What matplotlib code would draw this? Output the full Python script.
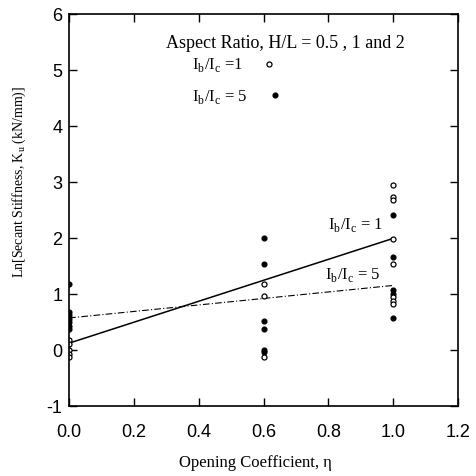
import matplotlib.pyplot as plt
from matplotlib.lines import Line2D

# open circles: Ib/Ic = 1, filled circles: Ib/Ic = 5
eta_open = [0.0, 0.0, 0.0, 0.0, 0.0,
            0.6, 0.6, 0.6,
            1.0, 1.0, 1.0, 1.0, 1.0, 1.0, 1.0, 1.0]
ln_k_open = [0.17, 0.11, -0.01, -0.07, -0.13,
             1.17, 0.97, -0.13,
             2.95, 2.73, 2.67, 1.98, 1.54, 0.94, 0.88, 0.82]

eta_filled = [0.0, 0.0, 0.0, 0.0, 0.0, 0.0, 0.0,
              0.6, 0.6, 0.6, 0.6, 0.6, 0.6,
              1.0, 1.0, 1.0, 1.0, 1.0]
ln_k_filled = [1.17, 0.68, 0.63, 0.55, 0.5, 0.43, 0.37,
               2.0, 1.54, 0.52, 0.375, 0.0, -0.04,
               2.4, 1.65, 1.06, 1.0, 0.57]

fit_eta = [0.0, 1.0]
fit_ib1 = [0.12, 1.99]
fit_ib5 = [0.57, 1.15]

xticks = [0.0, 0.2, 0.4, 0.6, 0.8, 1.0, 1.2]
yticks = [-1, 0, 1, 2, 3, 4, 5, 6]

SERIF = "Liberation Serif"
SANS = "Liberation Sans"
SUB_B = "I$_\\mathregular{b}$/I$_\\mathregular{c}$"

fig = plt.figure(figsize=(4.77, 4.77), dpi=100)
ax = fig.add_axes([0.145, 0.147, 0.815, 0.822])

ax.plot(fit_eta, fit_ib1, color="black", lw=1.1)
ax.plot(fit_eta, fit_ib5, color="black", lw=0.8, dashes=(6, 2, 1, 2))

ax.plot(eta_filled, ln_k_filled, "o", ms=3.4, mfc="black", mec="black", lw=0)
ax.plot(eta_open, ln_k_open, "o", ms=3.6, mfc="white", mec="black", mew=0.9, lw=0)

ax.set_xlim(0.0, 1.2)
ax.set_ylim(-1, 6)
ax.set_xticks(xticks)
ax.set_xticklabels([f"{v:.1f}" for v in xticks], fontfamily=SANS, fontsize=13)
ax.set_yticks(yticks)
ax.set_yticklabels([str(v) for v in yticks], fontfamily=SANS, fontsize=13)
ax.tick_params(direction="in", length=6, width=1, top=True, right=True)
ax.tick_params(axis="x", pad=12)
ax.tick_params(axis="y", pad=5)
for sp in ax.spines.values():
    sp.set_linewidth(1.2)

ax.set_xlabel("Opening Coefficient, η", fontfamily=SERIF, fontsize=12)
ax.xaxis.label.set_va("center")
ax.xaxis.set_label_coords(0.48, -0.143)
ax.set_ylabel("Ln[Secant Stiffness, K$_\\mathregular{u}$ (kN/mm)]", fontfamily=SERIF,
              fontsize=10)
ax.yaxis.label.set_va("center")
ax.yaxis.set_label_coords(-0.128, 0.574)

# legend block
ax.text(0.30, 5.48, "Aspect Ratio, H/L = 0.5 , 1 and 2", fontfamily=SERIF, fontsize=13,
        va="center")
ax.text(0.38, 5.1, SUB_B + " =1", fontfamily=SERIF, fontsize=12, va="center")
ax.text(0.38, 4.54, SUB_B + " = 5", fontfamily=SERIF, fontsize=12, va="center")
ax.add_line(Line2D([0.618], [5.1], marker="o", ms=3.6, mfc="white", mec="black", mew=0.9))
ax.add_line(Line2D([0.634], [4.55], marker="o", ms=3.4, mfc="black", mec="black"))

# line labels
ax.text(0.80, 2.25, SUB_B + " = 1", fontfamily=SERIF, fontsize=12, va="center")
ax.text(0.79, 1.35, SUB_B + " = 5", fontfamily=SERIF, fontsize=12, va="center")

fig.savefig("out.png", dpi=100)
